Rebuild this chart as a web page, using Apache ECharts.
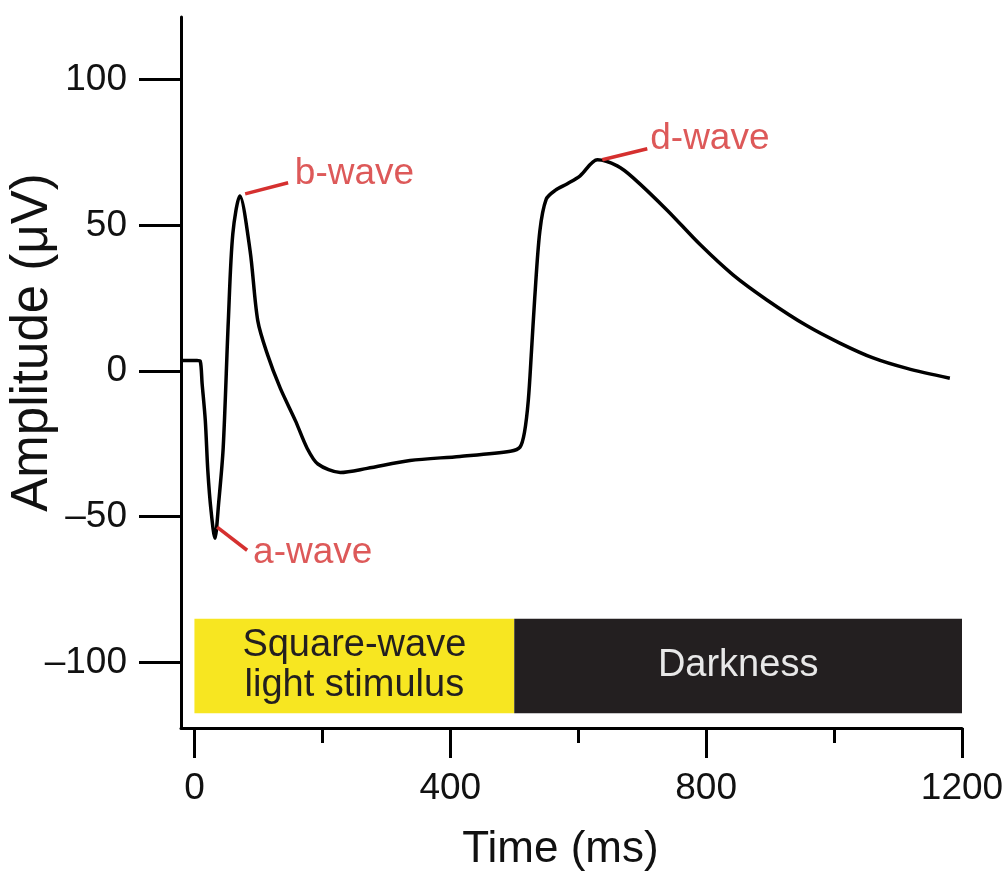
<!DOCTYPE html>
<html>
<head>
<meta charset="utf-8">
<script src="https://cdn.jsdelivr.net/npm/echarts@6/dist/echarts.min.js"></script>
<style>
html,body{margin:0;padding:0;background:#fff;}
#chart{width:1007px;height:877px;}
</style>
</head>
<body>
<div id="chart"></div>
<script>
// ERG trace (ms, uV)
var times = [-19, 4, 9, 12, 17, 21, 26, 32, 38, 45, 53, 60, 71, 87, 99, 114, 134, 158, 176, 193, 228, 270, 337, 415, 494, 509, 516, 522, 527, 532, 540, 550, 564, 583, 603, 630, 661, 686, 739, 791, 842, 895, 957, 1009, 1061, 1114, 1181];
var amps = [3.6, 3.6, 3.4, -4.3, -17, -34.4, -48, -57.4, -45, -26.2, 17.3, 47.1, 60.1, 41.3, 17.3, 5.8, -5.8, -17.1, -26.4, -31.9, -34.8, -33.4, -30.7, -29.3, -27.5, -26.1, -21, -10, 7, 25, 48, 59, 62, 64.3, 67, 72.5, 70.4, 66.3, 55.2, 43.3, 33, 24.4, 15.6, 9.6, 4.5, 0.9, -2.5];

var xTicks = [0, 400, 800, 1200];
var xMinorTicks = [200, 600, 1000];
var yTicks = [-100, -50, 0, 50, 100];

// stimulus bar
var bandStart = [0, 500];
var bandEnd = [500, 1200];
var bandText = ['Square-wave\nlight stimulus', 'Darkness'];
var bandTop = -85;
var bandBottom = -117.4;

// wave labels
var annoNames = ['a-wave', 'b-wave', 'd-wave'];
var annoFrom = [[35.5, -53.6], [79.3, 60.8], [637.6, 72.5]];
var annoTo = [[82.4, -61.5], [146.5, 64.6], [708, 76.3]];
var annoText = [[91.7, -62.5], [157, 67.7], [712.6, 79.7]];

var FONT = "'Liberation Sans', Arial, sans-serif";
var RED = '#d5302f';

var myChart = echarts.init(document.getElementById('chart'));

var lineData = [];
for (var i = 0; i < times.length; i++) {
	lineData.push([times[i], amps[i]]);
}

var bandColors = ['#f7e621', '#231f20'];
var bandLabelColors = ['#231f20', '#e8e8e8'];
var areas = [];
for (var i = 0; i < bandStart.length; i++) {
	areas.push([
		{
			xAxis: bandStart[i], yAxis: bandTop,
			itemStyle: {color: bandColors[i], opacity: 1},
			label: {
				show: true, position: 'inside', formatter: bandText[i],
				color: bandLabelColors[i], fontSize: 38, fontFamily: FONT, lineHeight: 40
			}
		},
		{xAxis: bandEnd[i], yAxis: bandBottom}
	]);
}

var lines = [];
var texts = [];
for (var i = 0; i < annoNames.length; i++) {
	lines.push([{coord: annoFrom[i]}, {coord: annoTo[i]}]);
	texts.push({value: annoText[i], name: annoNames[i]});
}

var option = {
	animation: false,
	backgroundColor: '#fff',
	grid: {left: 181, right: 45, top: 17, bottom: 149, containLabel: false, outerBoundsMode: 'none'},
	xAxis: [
		{
			type: 'value', min: -21, max: 1200,
			splitLine: {show: false},
			axisLine: {show: true, onZero: false, lineStyle: {color: '#000', width: 3}},
			axisTick: {show: true, customValues: xTicks, length: 30, lineStyle: {color: '#000', width: 3}},
			axisLabel: {
				customValues: xTicks, margin: 42, fontSize: 37, color: '#111', fontFamily: FONT,
				formatter: function (v) { return String(v); }
			},
			name: 'Time (ms)', nameLocation: 'middle', nameGap: 100,
			nameTextStyle: {fontSize: 44, color: '#111', fontFamily: FONT, padding: [0, 22, 0, 0]}
		},
		{
			type: 'value', min: -21, max: 1200, position: 'bottom',
			splitLine: {show: false},
			axisLine: {show: false, onZero: false},
			axisTick: {show: true, customValues: xMinorTicks, length: 15, lineStyle: {color: '#000', width: 3}},
			axisLabel: {show: false}
		}
	],
	yAxis: {
		type: 'value', min: -122.5, max: 121.5,
		splitLine: {show: false},
		axisLine: {show: true, onZero: false, lineStyle: {color: '#000', width: 3}},
		axisTick: {show: true, customValues: yTicks, length: 42, lineStyle: {color: '#000', width: 3}},
		axisLabel: {
			customValues: yTicks, margin: 54, fontSize: 37, color: '#111', fontFamily: FONT,
			formatter: function (v) { return v < 0 ? '\u2013' + Math.abs(v) : String(v); }
		},
		name: 'Amplitude (\u03bcV)', nameLocation: 'middle', nameGap: 123, nameMoveOverlap: false,
		nameTextStyle: {fontSize: 51, color: '#111', fontFamily: FONT, padding: [0, 0, 0, 60]}
	},
	series: [
		{
			type: 'line',
			data: lineData,
			showSymbol: false,
			smooth: 0.3,
			lineStyle: {color: '#000', width: 3.5},
			z: 3,
			markArea: {silent: true, data: areas},
			markLine: {
				silent: true, symbol: 'none',
				lineStyle: {color: RED, width: 3.5, type: 'solid'},
				label: {show: false},
				data: lines
			}
		},
		{
			type: 'scatter',
			data: texts,
			symbolSize: 0,
			label: {
				show: true, position: 'inside', align: 'left', verticalAlign: 'middle',
				formatter: '{b}', color: RED, fontSize: 37, fontFamily: FONT
			},
			z: 4
		}
	]
};
myChart.setOption(option);
</script>
</body>
</html>
